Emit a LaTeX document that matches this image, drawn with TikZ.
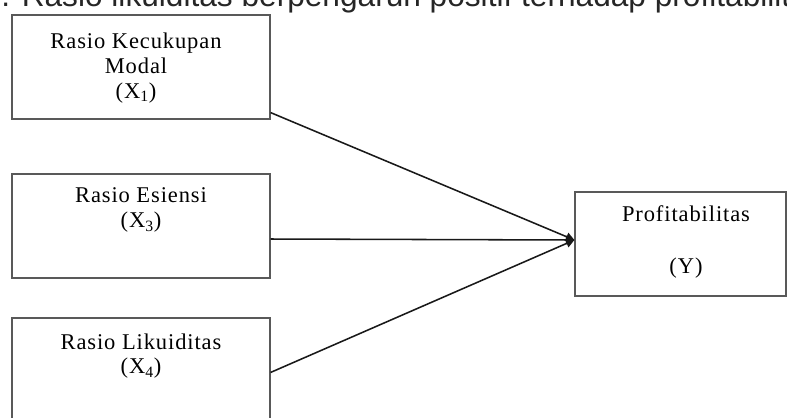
\documentclass[tikz,border=0pt]{standalone}
\usepackage{fontspec}
\setmainfont{Liberation Serif}
\newfontfamily\judulfont{Liberation Sans}
\usetikzlibrary{arrows.meta}

\begin{document}
\begin{tikzpicture}[x=0.025cm, y=-0.025cm,
        kotak/.style={draw=black!65, line width=0.8pt, inner sep=0pt},
        teks/.style={align=center, font=\fontsize{16}{17.5}\selectfont\addfontfeature{LetterSpace=4}},
        panah/.style={line width=1.1pt, black!90, -{Triangle[length=6pt,width=6pt]}}]
    \useasboundingbox (0,0) rectangle (787,417);
    % baris teks yang terpotong di atas
    \node[anchor=base west, inner sep=0pt, text=black!85,
          font=\judulfont\fontsize{22.5}{26}\selectfont] (judul) at (-6,6)
        {i. Rasio likuiditas berpengaruh positif terhadap profitabilitas};
    % variabel bebas
    \node[kotak, minimum width=6.45cm, minimum height=2.6cm] (x1) at (141,67) {};
    \node[teks] (t1) at (136,68) {Rasio Kecukupan\\Modal\\(X\textsubscript{1})};
    \node[kotak, minimum width=6.45cm, minimum height=2.6cm] (x2) at (141,226) {};
    \node[teks] (t2) at (141,210) {Rasio Esiensi\\(X\textsubscript{3})};
    \node[kotak, minimum width=6.45cm, minimum height=2.8cm] (x3) at (141,374) {};
    \node[teks] (t3) at (141,356) {Rasio Likuiditas\\(X\textsubscript{4})};
    % variabel terikat
    \node[kotak, minimum width=5.275cm, minimum height=2.6cm] (y) at (680.5,244) {};
    \node[teks] (ty) at (686,242) {Profitabilitas\\[20pt](Y)};
    % panah
    \draw[panah] ([yshift=0.175cm]x1.south east) -- ([yshift=0.1cm]y.west);
    \draw[panah] ([yshift=-0.325cm]x2.east) -- ([yshift=0.1cm]y.west);
    \draw[panah] ([yshift=-1.375cm]x3.north east) -- ([yshift=0.1cm]y.west);
\end{tikzpicture}
\end{document}
